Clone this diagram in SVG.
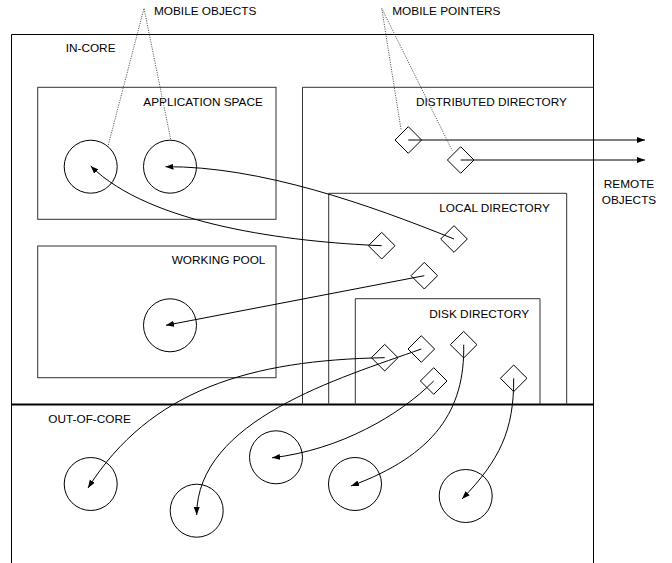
<svg xmlns="http://www.w3.org/2000/svg" width="672" height="563" viewBox="0 0 672 563">
<style>
text{font-family:"Liberation Sans",Arial,sans-serif;font-size:11.8px;fill:#000}
.box{fill:none;stroke:#333;stroke-width:1}
.obj{fill:none;stroke:#000;stroke-width:1}
.ptr{fill:none;stroke:#000;stroke-width:1}
.con{fill:none;stroke:#000;stroke-width:1}
.dot{fill:none;stroke:#333;stroke-width:0.8;stroke-dasharray:1.2,1.2}
</style>
<defs>
<marker id="ah" markerUnits="userSpaceOnUse" markerWidth="9" markerHeight="7" refX="8" refY="3.5" orient="auto">
<path d="M0,0.5 L8,3.5 L0,6.5 z" fill="#000"/>
</marker>
</defs>
<g id="regions">
<path d="M11.5,563 V34.5 H593.5 V563" fill="none" stroke="#000" stroke-width="1"/>
<line x1="11" y1="404.5" x2="594" y2="404.5" stroke="#000" stroke-width="1.8"/>
<text x="65.7" y="52.3">IN-CORE</text>
<text x="48.3" y="423.3">OUT-OF-CORE</text>
</g>
<g id="application-space">
<rect class="box" x="37.7" y="87.3" width="238.3" height="132"/>
<text x="143.3" y="106">APPLICATION SPACE</text>
</g>
<g id="working-pool">
<rect class="box" x="37.7" y="246" width="238.3" height="131.7"/>
<text x="171.7" y="264.3">WORKING POOL</text>
</g>
<g id="distributed-directory">
<path class="box" d="M302.5,404.5 V87.3 H593.5"/>
<text x="416" y="106">DISTRIBUTED DIRECTORY</text>
</g>
<g id="local-directory">
<path class="box" d="M328.7,404.5 V193.3 H566.7 V404.5"/>
<text x="439.3" y="211.7">LOCAL DIRECTORY</text>
</g>
<g id="disk-directory">
<path class="box" d="M355.3,404.5 V298.7 H540 V404.5"/>
<text x="429.3" y="317.7">DISK DIRECTORY</text>
</g>
<g id="objects">
<circle class="obj" cx="90.7" cy="166.7" r="26.5"/>
<circle class="obj" cx="170" cy="166.7" r="26.5"/>
<circle class="obj" cx="170" cy="325.3" r="26.5"/>
<circle class="obj" cx="90.7" cy="484" r="26.5"/>
<circle class="obj" cx="196.7" cy="510.7" r="26.5"/>
<circle class="obj" cx="276" cy="457.3" r="26.5"/>
<circle class="obj" cx="355" cy="484" r="26.5"/>
<circle class="obj" cx="465.7" cy="496" r="26.5"/>
</g>
<g id="pointers">
<path class="ptr" d="M408.3,126.7 l13.3,13.3 l-13.3,13.3 l-13.3,-13.3 z"/>
<path class="ptr" d="M460.7,146.7 l13.3,13.3 l-13.3,13.3 l-13.3,-13.3 z"/>
<path class="ptr" d="M381.7,232.4 l13.3,13.3 l-13.3,13.3 l-13.3,-13.3 z"/>
<path class="ptr" d="M454,225.7 l13.3,13.3 l-13.3,13.3 l-13.3,-13.3 z"/>
<path class="ptr" d="M424.3,262.4 l13.3,13.3 l-13.3,13.3 l-13.3,-13.3 z"/>
<path class="ptr" d="M384.7,344.4 l13.3,13.3 l-13.3,13.3 l-13.3,-13.3 z"/>
<path class="ptr" d="M421.3,335.7 l13.3,13.3 l-13.3,13.3 l-13.3,-13.3 z"/>
<path class="ptr" d="M463.7,331.4 l13.3,13.3 l-13.3,13.3 l-13.3,-13.3 z"/>
<path class="ptr" d="M433.7,367.7 l13.3,13.3 l-13.3,13.3 l-13.3,-13.3 z"/>
<path class="ptr" d="M513.7,365 l13.3,13.3 l-13.3,13.3 l-13.3,-13.3 z"/>
</g>
<g id="connectors">
<line class="con" x1="408.3" y1="140" x2="645" y2="140" marker-end="url(#ah)"/>
<line class="con" x1="460.7" y1="160" x2="645" y2="160" marker-end="url(#ah)"/>
<path class="con" d="M381.7,245.7 C290,242 150,225 90.7,166" marker-end="url(#ah)"/>
<path class="con" d="M454,239 C370,205 260,166 165.5,166.7" marker-end="url(#ah)"/>
<line class="con" x1="424.3" y1="275.7" x2="166" y2="325.3" marker-end="url(#ah)"/>
<path class="con" d="M384.7,357.7 C250,360 150,390 88,488" marker-end="url(#ah)"/>
<path class="con" d="M421.3,349 C340,378 196.7,420 196.7,515" marker-end="url(#ah)"/>
<path class="con" d="M463.7,344.7 C465,410 435,455 351,486" marker-end="url(#ah)"/>
<path class="con" d="M433.7,381 C400,415 340,450 272,457.8" marker-end="url(#ah)"/>
<path class="con" d="M513.7,378.3 C514,430 500,460 462,499" marker-end="url(#ah)"/>
<path class="dot" d="M108.3,145 L144,8.3 L170.7,139.3"/>
<path class="dot" d="M401,129.3 L381.7,8.3 L452.3,150.7"/>
</g>
<g id="labels">
<text x="154" y="15">MOBILE OBJECTS</text>
<text x="392.3" y="15">MOBILE POINTERS</text>
<text x="629" y="188" text-anchor="middle">REMOTE</text>
<text x="629" y="204" text-anchor="middle">OBJECTS</text>
</g>
</svg>
